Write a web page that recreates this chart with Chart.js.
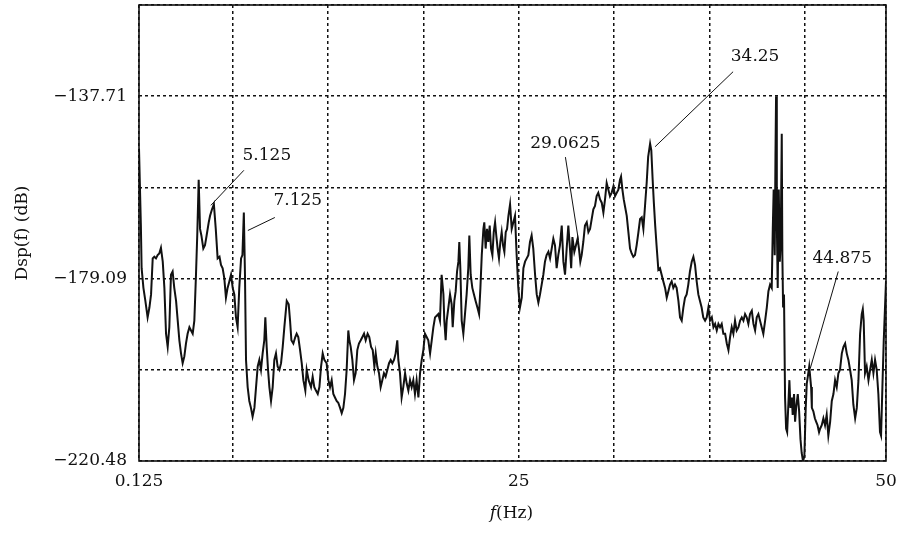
<!DOCTYPE html>
<html>
<head>
<meta charset="utf-8">
<script src="https://cdn.jsdelivr.net/npm/chart.js@4"></script>
<style>
  html, body { margin: 0; padding: 0; background: #fff; }
  canvas { display: block; }
</style>
</head>
<body>
<canvas id="c" width="897" height="533"></canvas>
<script>
// Displacement spectrum Dsp(f) in dB against frequency in Hz
const freqHz = [
  0.125, 0.25, 0.30, 0.42, 0.55, 0.70, 0.82, 0.93, 1.04, 1.15, 1.26, 1.37, 1.48, 1.59, 1.71, 1.82, 1.93, 2.04,
  2.15, 2.26, 2.37, 2.48, 2.60, 2.71, 2.82, 2.93, 3.04, 3.15, 3.26, 3.37, 3.49, 3.60, 3.71, 3.82, 3.93, 4.02,
  4.11, 4.20, 4.29, 4.42, 4.53, 4.64, 4.78, 4.87, 5.00, 5.125, 5.25, 5.375, 5.50, 5.60, 5.71, 5.82, 5.93, 6.04,
  6.16, 6.27, 6.38, 6.49, 6.60, 6.71, 6.82, 6.94, 7.03, 7.125, 7.20, 7.27, 7.38, 7.49, 7.60, 7.71, 7.83, 7.94,
  8.05, 8.16, 8.27, 8.38, 8.49, 8.56, 8.65, 8.74, 8.83, 8.94, 9.05, 9.16, 9.27, 9.38, 9.50, 9.61, 9.72, 9.83,
  9.99, 10.12, 10.21, 10.30, 10.43, 10.56, 10.65, 10.76, 10.88, 10.99, 11.10, 11.23, 11.32, 11.45, 11.61, 11.72, 11.83, 11.94,
  12.06, 12.17, 12.28, 12.39, 12.50, 12.65, 12.77, 12.88, 12.99, 13.10, 13.21, 13.32, 13.43, 13.55, 13.66, 13.77, 13.88, 13.99,
  14.10, 14.17, 14.26, 14.37, 14.48, 14.59, 14.70, 14.81, 14.93, 15.04, 15.15, 15.26, 15.39, 15.50, 15.62, 15.73, 15.84, 15.93,
  16.04, 16.15, 16.26, 16.37, 16.48, 16.59, 16.71, 16.82, 16.93, 17.04, 17.15, 17.26, 17.37, 17.44, 17.55, 17.66, 17.77, 17.89,
  18.00, 18.11, 18.22, 18.33, 18.44, 18.55, 18.66, 18.78, 18.89, 19.00, 19.11, 19.22, 19.33, 19.44, 19.56, 19.67, 19.78, 19.89,
  20.00, 20.11, 20.22, 20.33, 20.45, 20.51, 20.60, 20.67, 20.78, 20.89, 21.00, 21.07, 21.18, 21.27, 21.36, 21.45, 21.51, 21.58,
  21.67, 21.78, 21.89, 22.00, 22.11, 22.18, 22.27, 22.38, 22.49, 22.60, 22.72, 22.83, 22.92, 23.01, 23.12, 23.18, 23.27, 23.36,
  23.45, 23.54, 23.63, 23.72, 23.81, 23.90, 23.98, 24.07, 24.16, 24.25, 24.34, 24.43, 24.52, 24.61, 24.70, 24.79, 24.90, 25.01,
  25.12, 25.23, 25.34, 25.45, 25.56, 25.68, 25.79, 25.90, 26.01, 26.12, 26.23, 26.34, 26.45, 26.57, 26.68, 26.79, 26.90, 27.01,
  27.12, 27.23, 27.34, 27.46, 27.57, 27.68, 27.79, 27.90, 28.01, 28.12, 28.23, 28.35, 28.46, 28.57, 28.68, 28.79, 28.90, 28.98,
  29.0625, 29.19, 29.30, 29.41, 29.50, 29.59, 29.68, 29.79, 29.90, 30.02, 30.13, 30.24, 30.35, 30.46, 30.57, 30.68, 30.79, 30.91,
  31.02, 31.13, 31.24, 31.35, 31.46, 31.57, 31.68, 31.80, 31.91, 32.02, 32.13, 32.24, 32.31, 32.40, 32.49, 32.57, 32.69, 32.80,
  32.91, 33.02, 33.13, 33.24, 33.35, 33.47, 33.58, 33.69, 33.80, 33.91, 34.02, 34.12, 34.25, 34.33, 34.42, 34.50, 34.59, 34.68,
  34.80, 34.91, 35.02, 35.13, 35.25, 35.36, 35.47, 35.58, 35.69, 35.80, 35.91, 36.02, 36.14, 36.25, 36.36, 36.47, 36.58, 36.69,
  36.80, 36.91, 37.03, 37.14, 37.25, 37.36, 37.47, 37.58, 37.69, 37.80, 37.92, 38.03, 38.14, 38.25, 38.37, 38.48, 38.59, 38.70,
  38.81, 38.92, 39.03, 39.14, 39.26, 39.37, 39.48, 39.59, 39.70, 39.81, 39.92, 40.03, 40.15, 40.26, 40.37, 40.48, 40.59, 40.70,
  40.81, 40.92, 41.04, 41.15, 41.26, 41.37, 41.48, 41.59, 41.70, 41.81, 41.93, 42.04, 42.15, 42.26, 42.37, 42.44, 42.50, 42.57,
  42.62, 42.66, 42.71, 42.77, 42.84, 42.91, 42.97, 43.04, 43.08, 43.13, 43.19, 43.26, 43.33, 43.40, 43.48, 43.55, 43.62, 43.71,
  43.77, 43.86, 43.93, 44.00, 44.11, 44.20, 44.29, 44.37, 44.46, 44.55, 44.64, 44.71, 44.78, 44.875, 45.00, 45.05, 45.15, 45.25,
  45.34, 45.43, 45.53, 45.60, 45.71, 45.82, 45.93, 46.04, 46.15, 46.27, 46.38, 46.49, 46.60, 46.71, 46.82, 46.93, 47.05, 47.16,
  47.27, 47.38, 47.49, 47.60, 47.71, 47.82, 47.94, 48.05, 48.16, 48.27, 48.38, 48.45, 48.51, 48.60, 48.71, 48.83, 48.94, 49.05,
  49.16, 49.27, 49.38, 49.49, 49.60, 49.67, 49.76, 49.85, 50.00
];

const dspDb = [
  -149.61, -167.08, -176.74, -181.20, -184.17, -187.89, -185.66, -182.68, -174.51, -174.14, -174.51, -173.77, -173.39, -172.13, -175.25, -181.20, -191.60, -194.58,
  -190.12, -178.22, -177.48, -181.20, -184.17, -188.63, -193.09, -196.06, -198.29, -196.81, -193.83, -191.60, -190.12, -190.86, -191.60, -188.63, -178.22, -168.56,
  -156.67, -167.82, -169.31, -172.28, -171.54, -169.31, -166.33, -164.85, -163.36, -162.24, -167.82, -174.51, -174.14, -176.00, -176.74, -178.97, -183.43, -181.20,
  -179.71, -178.22, -181.20, -182.68, -187.89, -190.12, -181.20, -174.51, -173.77, -164.10, -178.22, -197.55, -203.71, -206.86, -208.43, -210.40, -208.43, -203.71,
  -199.04, -197.55, -199.78, -196.06, -193.09, -187.89, -194.58, -199.78, -203.71, -206.86, -203.71, -197.55, -196.06, -199.04, -199.78, -198.29, -194.58, -190.12,
  -184.17, -184.91, -188.63, -193.09, -193.83, -192.35, -191.60, -192.35, -195.32, -198.29, -202.14, -204.50, -199.78, -202.14, -203.71, -201.35, -203.71, -204.50,
  -205.28, -203.71, -199.04, -196.06, -197.55, -198.29, -202.14, -203.71, -202.14, -205.28, -206.07, -206.86, -207.25, -208.43, -209.61, -208.43, -205.28, -199.78,
  -190.86, -193.09, -194.58, -197.55, -202.14, -200.56, -195.32, -193.83, -193.09, -192.35, -191.60, -193.09, -191.60, -192.35, -194.58, -195.32, -199.04, -196.06,
  -199.04, -200.56, -203.71, -202.14, -200.56, -201.35, -199.78, -198.29, -197.55, -198.29, -197.55, -196.06, -193.09, -197.55, -200.56, -206.07, -203.71, -200.56,
  -202.92, -204.50, -202.14, -203.71, -202.14, -205.28, -202.14, -206.07, -200.56, -197.55, -195.32, -191.60, -192.35, -193.09, -196.06, -193.09, -190.12, -187.89,
  -187.52, -187.14, -188.63, -178.22, -182.68, -188.63, -193.09, -188.63, -185.66, -182.68, -184.91, -190.12, -184.17, -181.94, -177.48, -175.25, -170.79, -176.74,
  -188.63, -191.60, -187.14, -182.68, -176.74, -169.31, -178.22, -181.20, -182.68, -184.17, -185.66, -187.14, -181.20, -173.77, -167.82, -166.33, -172.28, -167.82,
  -170.79, -167.08, -172.28, -173.77, -168.56, -166.33, -169.31, -172.28, -174.51, -170.79, -168.56, -171.54, -173.02, -168.56, -167.82, -164.85, -162.24, -167.82,
  -166.33, -164.85, -173.77, -181.20, -185.66, -183.43, -176.74, -175.25, -174.51, -173.77, -170.79, -169.31, -172.28, -178.22, -182.68, -184.54, -182.68, -180.45,
  -178.22, -175.25, -173.77, -173.02, -174.51, -172.28, -170.05, -171.54, -176.74, -173.77, -171.54, -167.08, -175.25, -178.22, -172.28, -167.08, -172.28, -176.74,
  -169.68, -173.02, -171.54, -170.05, -172.28, -175.25, -173.77, -170.79, -167.08, -166.33, -168.56, -167.82, -165.59, -163.36, -162.62, -160.39, -159.64, -161.13,
  -161.87, -164.10, -161.13, -157.41, -158.90, -160.39, -159.64, -158.16, -160.39, -159.64, -158.90, -156.67, -155.93, -158.90, -161.13, -162.62, -164.85, -168.56,
  -172.28, -173.39, -174.14, -173.77, -171.54, -168.56, -165.59, -165.22, -167.82, -162.62, -157.41, -151.47, -148.49, -149.98, -156.67, -161.87, -167.08, -171.54,
  -177.11, -176.74, -178.22, -179.71, -181.20, -183.43, -181.94, -180.45, -179.71, -181.20, -180.45, -181.20, -184.17, -187.89, -188.63, -185.66, -183.43, -182.68,
  -180.45, -177.48, -175.25, -174.14, -176.00, -179.71, -182.68, -184.17, -185.66, -187.89, -188.63, -187.89, -185.66, -188.63, -187.89, -190.12, -189.37, -190.86,
  -189.37, -190.12, -189.37, -191.60, -191.60, -193.83, -195.32, -192.35, -190.12, -191.60, -188.63, -190.86, -190.12, -188.63, -187.89, -188.63, -187.14, -187.89,
  -189.37, -187.14, -186.40, -189.37, -190.86, -187.89, -187.14, -188.63, -190.12, -191.60, -188.63, -185.66, -181.94, -180.45, -181.20, -167.82, -158.90, -173.77,
  -151.47, -137.71, -166.33, -181.20, -158.90, -175.25, -170.79, -146.26, -173.77, -185.66, -182.68, -206.07, -213.15, -213.94, -207.65, -202.14, -208.43, -206.07,
  -210.01, -205.28, -211.58, -208.43, -205.28, -209.22, -215.52, -218.66, -220.48, -219.45, -208.43, -202.92, -201.35, -199.04, -203.71, -208.43, -209.22, -210.79,
  -211.58, -212.37, -213.94, -213.15, -212.37, -210.79, -212.37, -210.01, -214.73, -211.58, -206.86, -205.28, -202.14, -203.71, -200.56, -199.78, -196.06, -194.58,
  -193.83, -196.06, -197.55, -199.78, -202.14, -207.65, -210.79, -208.43, -202.14, -191.60, -187.14, -186.03, -188.63, -200.56, -199.04, -202.14, -199.78, -197.55,
  -200.56, -197.55, -199.78, -205.28, -213.94, -214.73, -203.71, -193.09, -179.71
];

// Axis ticks: grid positions and the labels printed at them
const xTickValues = [0.125, 6.37, 12.74, 19.11, 25.48, 31.85, 38.22, 44.59, 50];
const xTickLabels = ['0.125', '', '', '', '25', '', '', '', '50'];
const yTickValues = [-220.48, -199.785, -179.09, -158.40, -137.71, -117.02];
const yTickLabels = ['\u2212220.48', '', '\u2212179.09', '', '\u2212137.71', ''];

// Frequencies of the marked peaks (labels print these values)
const peakFreqs = [5.125, 7.125, 29.0625, 34.25, 44.875];

// Callout geometry, in pixels relative to the marked point
const calloutLayout = [
  { end: [-3, 1],  start: [30, -34], text: [53, -49] },
  { end: [4, 18],  start: [31, 5],   text: [54, -12] },
  { end: [6, 3],   start: [-7, -80], text: [-7, -94] },
  { end: [5, 3],   start: [83, -72], text: [105, -87] },
  { end: [1, 2],   start: [29, -95], text: [33, -108] }
];

const FONT = 'DejaVu Serif';
const INK = '#111';

const points = freqHz.map((f, i) => ({ x: f, y: dspDb[i] }));

const whiteBackground = {
  id: 'whiteBackground',
  beforeDraw(chart) {
    const c = chart.ctx;
    c.save();
    c.fillStyle = '#fff';
    c.fillRect(0, 0, chart.width, chart.height);
    c.restore();
  }
};

const frameAndCallouts = {
  id: 'frameAndCallouts',
  afterDatasetsDraw(chart) {
    const c = chart.ctx;
    const a = chart.chartArea;
    const xs = chart.scales.x, ys = chart.scales.y;

    // solid box around the plotting area
    c.save();
    c.strokeStyle = INK;
    c.lineWidth = 1.6;
    c.setLineDash([]);
    c.strokeRect(a.left, a.top, a.right - a.left, a.bottom - a.top);
    c.restore();

    // peak callouts
    c.save();
    c.strokeStyle = INK;
    c.fillStyle = INK;
    c.lineWidth = 1;
    c.font = '17px "' + FONT + '"';
    c.textAlign = 'center';
    c.textBaseline = 'middle';
    peakFreqs.forEach((f, k) => {
      const idx = freqHz.indexOf(f);
      const px = xs.getPixelForValue(f);
      const py = ys.getPixelForValue(dspDb[idx]);
      const L = calloutLayout[k];
      c.beginPath();
      c.moveTo(px + L.end[0], py + L.end[1]);
      c.lineTo(px + L.start[0], py + L.start[1]);
      c.stroke();
      c.fillText(String(f), px + L.text[0], py + L.text[1]);
    });
    c.restore();

    // x-axis title: italic f followed by (Hz)
    c.save();
    c.fillStyle = INK;
    c.textBaseline = 'middle';
    const italic = 'italic 17px "' + FONT + '"';
    const upright = '17px "' + FONT + '"';
    c.font = italic;
    const wf = c.measureText('f').width;
    c.font = upright;
    const wr = c.measureText('(Hz)').width;
    const cx = (a.left + a.right) / 2 - 1;
    const x0 = cx - (wf + wr) / 2;
    const ty = 514;
    c.font = italic;
    c.textAlign = 'left';
    c.fillText('f', x0, ty);
    c.font = upright;
    c.fillText('(Hz)', x0 + wf, ty);
    c.restore();
  }
};

new Chart(document.getElementById('c'), {
  type: 'line',
  data: {
    datasets: [{
      data: points,
      borderColor: INK,
      borderWidth: 2,
      pointRadius: 0,
      tension: 0,
      fill: false
    }]
  },
  options: {
    responsive: false,
    animation: false,
    devicePixelRatio: 1,
    layout: { padding: { top: 5, right: 11, left: 0, bottom: 0 } },
    plugins: { legend: { display: false }, tooltip: { enabled: false } },
    scales: {
      x: {
        type: 'linear',
        min: 0.125,
        max: 50,
        afterBuildTicks: s => { s.ticks = xTickValues.map(v => ({ value: v })); },
        afterFit: s => { s.height = 72; s.paddingLeft = 0; s.paddingRight = 0; },
        grid: { color: INK, lineWidth: 1.5, drawTicks: false },
        border: { display: false, dash: [3, 3] },
        ticks: {
          autoSkip: false,
          maxRotation: 0,
          padding: 10,
          color: INK,
          font: { family: FONT, size: 17 },
          callback: (v, i) => xTickLabels[i]
        }
      },
      y: {
        type: 'linear',
        min: -220.48,
        max: -117.02,
        afterBuildTicks: s => { s.ticks = yTickValues.map(v => ({ value: v })); },
        afterFit: s => { s.width = 139; s.paddingTop = 0; s.paddingBottom = 0; },
        grid: { color: INK, lineWidth: 1.5, drawTicks: false },
        border: { display: false, dash: [3, 3] },
        ticks: {
          autoSkip: false,
          padding: 12,
          color: INK,
          font: { family: FONT, size: 17 },
          callback: (v, i) => yTickLabels[i]
        },
        title: {
          display: true,
          text: 'Dsp(f) (dB)',
          color: INK,
          font: { family: FONT, size: 17 },
          padding: { top: 12, bottom: 0 }
        }
      }
    }
  },
  plugins: [whiteBackground, frameAndCallouts]
});
</script>
</body>
</html>
